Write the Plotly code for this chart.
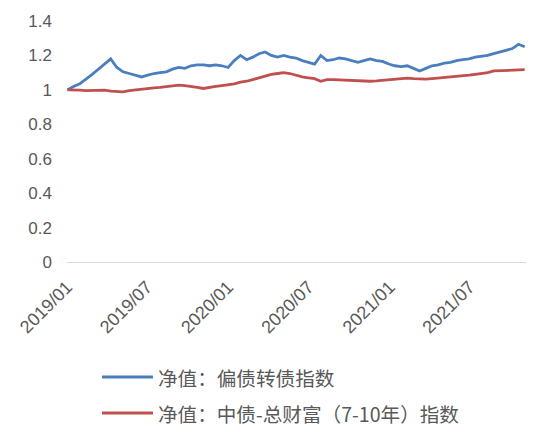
import pandas as pd
import plotly.graph_objects as go

# Biweekly observation dates (2019-01-02 .. 2021-11-03)
dates = pd.date_range("2019-01-02", periods=75, freq="14D")

blue_name = "净值：偏债转债指数"
red_name = "净值：中债-总财富（7-10年）指数"

blue_vals = [
    1.00, 1.02, 1.035, 1.06, 1.09, 1.12, 1.15, 1.18, 1.13, 1.105,
    1.095, 1.085, 1.075, 1.085, 1.095, 1.10, 1.105, 1.12, 1.13, 1.125,
    1.14, 1.145, 1.145, 1.14, 1.145, 1.14, 1.13, 1.17, 1.20, 1.175,
    1.19, 1.21, 1.22, 1.20, 1.19, 1.20, 1.19, 1.185, 1.17, 1.16,
    1.15, 1.20, 1.17, 1.175, 1.185, 1.18, 1.17, 1.16, 1.17, 1.18,
    1.17, 1.165, 1.15, 1.14, 1.135, 1.14, 1.125, 1.11, 1.125, 1.14,
    1.145, 1.155, 1.16, 1.17, 1.175, 1.18, 1.19, 1.195, 1.20, 1.21,
    1.22, 1.23, 1.24, 1.265, 1.25,
]

red_vals = [
    1.00, 1.00, 0.998, 0.995, 0.997, 0.995, 0.998, 0.992, 0.99, 0.988,
    0.995, 1.00, 1.005, 1.01, 1.012, 1.015, 1.02, 1.025, 1.028, 1.025,
    1.022, 1.015, 1.008, 1.012, 1.02, 1.025, 1.03, 1.035, 1.045, 1.05,
    1.06, 1.07, 1.08, 1.09, 1.095, 1.10, 1.095, 1.085, 1.075, 1.07,
    1.065, 1.05, 1.06, 1.06, 1.058, 1.055, 1.052, 1.05, 1.05, 1.05,
    1.052, 1.055, 1.058, 1.062, 1.065, 1.068, 1.065, 1.062, 1.062, 1.065,
    1.068, 1.07, 1.075, 1.08, 1.082, 1.085, 1.09, 1.095, 1.10, 1.11,
    1.112, 1.115, 1.115, 1.118, 1.117,
]

x_tickvals = ["2019-01-01", "2019-07-01", "2020-01-01", "2020-07-01", "2021-01-01", "2021-07-01"]
x_ticktext = ["2019/01", "2019/07", "2020/01", "2020/07", "2021/01", "2021/07"]
y_tickvals = [0, 0.2, 0.4, 0.6, 0.8, 1.0, 1.2, 1.4]
y_ticktext = ["0", "0.2", "0.4", "0.6", "0.8", "1", "1.2", "1.4"]

BLUE = "#4a7ebf"
RED = "#c0504d"
GRAY = "#595959"
FONT = "Liberation Sans, Arial, sans-serif"
CJK = "Noto Sans CJK SC, sans-serif"

W, H = 537, 432
ML, MR, MT, MB = 67, 11, 21, 170
plot_w = W - ML - MR
plot_h = H - MT - MB

fig = go.Figure()
fig.add_trace(go.Scatter(x=dates, y=blue_vals, mode="lines", name=blue_name,
                         line=dict(color=BLUE, width=2.8), showlegend=False))
fig.add_trace(go.Scatter(x=dates, y=red_vals, mode="lines", name=red_name,
                         line=dict(color=RED, width=2.8), showlegend=False))

# Custom legend below the chart (pixel positions converted to paper coords)
legend_items = [(blue_name, BLUE, 377), (red_name, RED, 413)]
for name, color, ypx in legend_items:
    yp = (H - MB - ypx) / plot_h
    fig.add_shape(type="line", xref="paper", yref="paper",
                  x0=(102 - ML) / plot_w, x1=(153 - ML) / plot_w, y0=yp, y1=yp,
                  line=dict(color=color, width=3), layer="above")
    fig.add_annotation(xref="paper", yref="paper", x=(156 - ML) / plot_w, y=yp,
                       text=name, showarrow=False, xanchor="left", yanchor="middle",
                       font=dict(family=CJK, size=19.6, color=GRAY))

fig.update_layout(
    width=W, height=H,
    margin=dict(l=ML, r=MR, t=MT, b=MB),
    paper_bgcolor="white", plot_bgcolor="white",
    font=dict(family=FONT, color=GRAY, size=16),
)
fig.update_xaxes(
    type="date", range=["2019-01-01", "2021-11-06"],
    tickvals=x_tickvals, ticktext=x_ticktext, tickangle=-45,
    showgrid=False, zeroline=False, showline=False,
    ticks="", ticklabelstandoff=10,
    tickfont=dict(family=FONT, size=18, color=GRAY),
)
fig.update_yaxes(
    range=[0, 1.4], tickvals=y_tickvals, ticktext=y_ticktext,
    showgrid=False, zeroline=True, zerolinecolor="#d9d9d9", zerolinewidth=1.3,
    showline=False, ticks="", ticklabelstandoff=14,
    tickfont=dict(family=FONT, size=17, color=GRAY),
)

fig.write_html("out.html", config={"displayModeBar": False},
               post_script="document.body.style.margin='0';")
